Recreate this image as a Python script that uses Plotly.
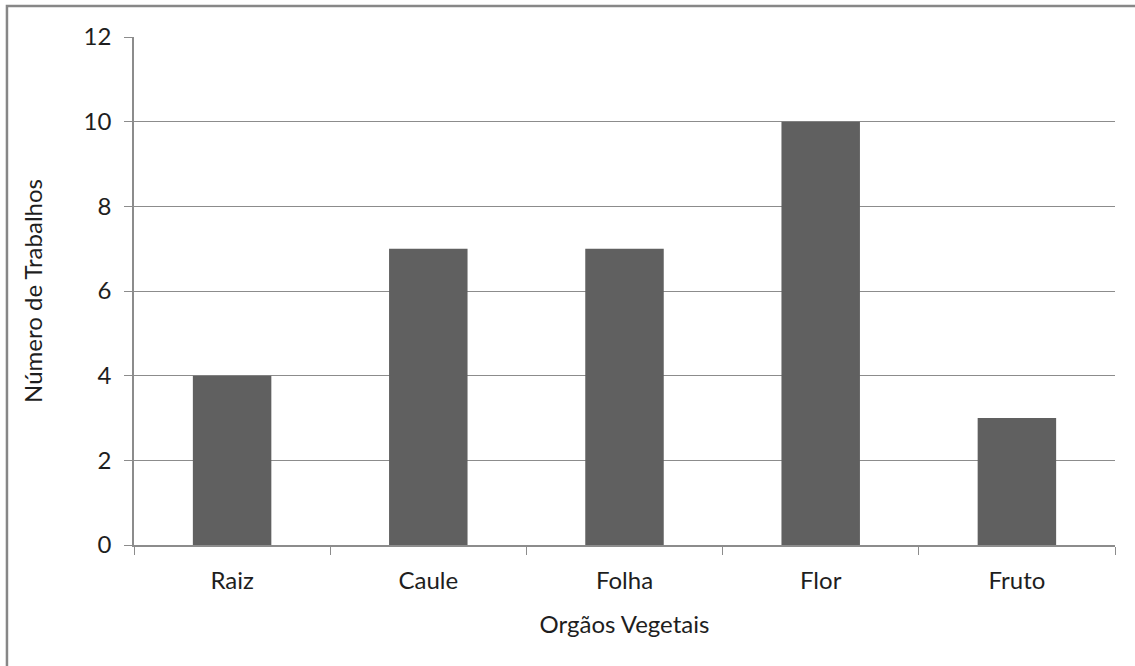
import plotly.graph_objects as go

categories = ["Raiz", "Caule", "Folha", "Flor", "Fruto"]
values = [4, 7, 7, 10, 3]
y_ticks = [0, 2, 4, 6, 8, 10, 12]

font_family = "Lato, 'Open Sans', sans-serif"

fig = go.Figure()
fig.add_trace(go.Bar(
    x=categories, y=values,
    marker=dict(color="#606060", line=dict(width=0)),
    hoverinfo="x+y",
))

fig.update_layout(
    width=1135, height=666,
    margin=dict(l=134, r=20, t=37, b=121),
    paper_bgcolor="white", plot_bgcolor="white",
    bargap=0.6,
    showlegend=False,
    font=dict(family=font_family, size=24, color="#1e1e1e"),
    xaxis=dict(
        title=dict(text="Orgãos Vegetais", font=dict(size=24), standoff=24),
        showline=True, linecolor="#8c8c8c", linewidth=1.5,
        ticks="outside", ticklen=8, tickcolor="#8c8c8c",
        tickson="boundaries", showgrid=False,
        tickfont=dict(size=24), ticklabelstandoff=13,
    ),
    yaxis=dict(
        title=dict(text="Número de Trabalhos", font=dict(size=24), standoff=34),
        range=[0, 12], tickvals=y_ticks,
        showline=True, linecolor="#8c8c8c", linewidth=1.5,
        ticks="outside", ticklen=8, tickcolor="#8c8c8c",
        showgrid=True, gridcolor="#8c8c8c", gridwidth=1,
        zeroline=False,
        tickfont=dict(size=24), ticklabelstandoff=8,
    ),
    shapes=[dict(
        type="rect", xref="paper", yref="paper",
        x0=-0.1295, x1=1.1, y0=-0.3, y1=1.061,
        line=dict(color="#878787", width=2.5), fillcolor="rgba(0,0,0,0)",
        layer="below",
    )],
)

fig.write_html("out.html", config={"displayModeBar": False},
               post_script="document.body.style.margin='0px';")
